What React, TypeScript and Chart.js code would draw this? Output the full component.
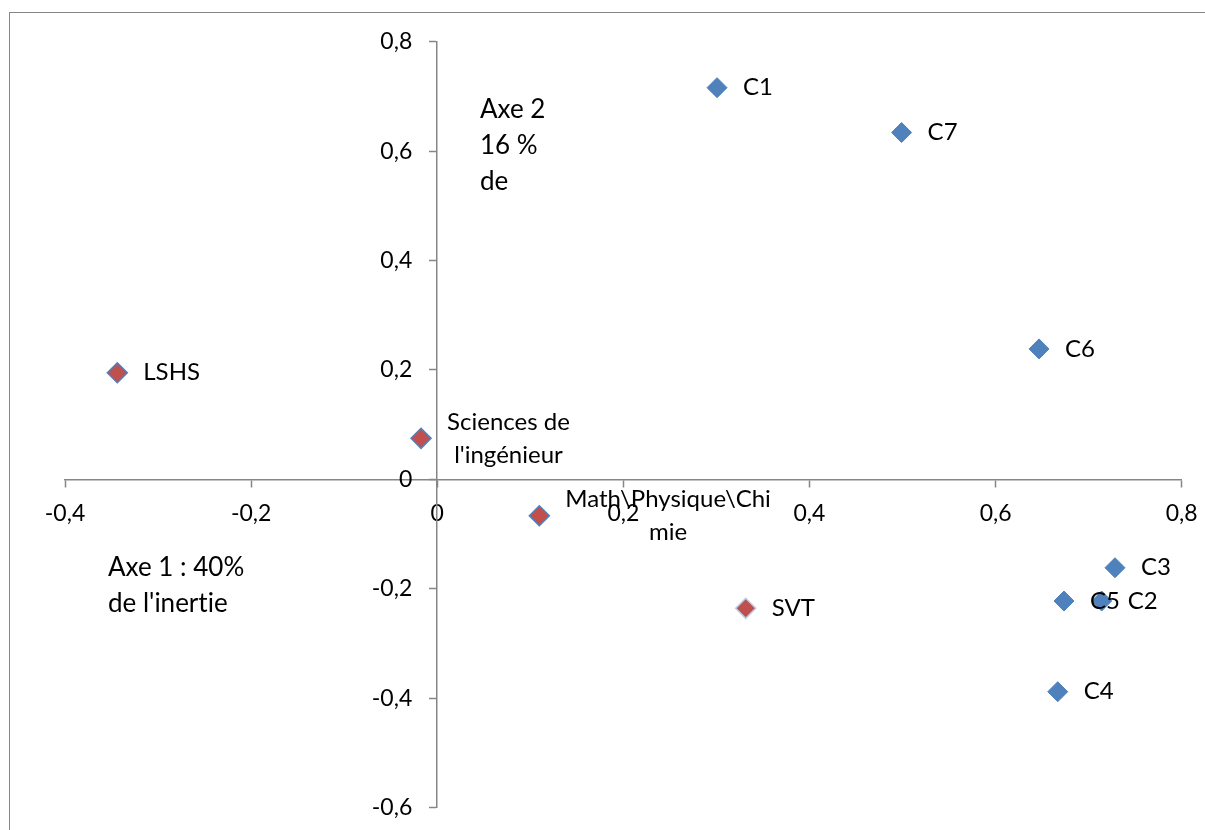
import React, { useEffect, useRef } from "react";
import { Chart, registerables } from "chart.js";

Chart.register(...registerables);

// ---- data ----
const classLabels = ["C1", "C2", "C3", "C4", "C5", "C6", "C7"];
const classX = [0.3007, 0.714, 0.7283, 0.6668, 0.6735, 0.6467, 0.499];
const classY = [0.716, -0.2223, -0.1614, -0.388, -0.2223, 0.2385, 0.634];

const fieldLabels = ["LSHS", "Sciences de\nl'ingénieur", "Math\\Physique\\Chi\nmie", "SVT"];
const fieldX = [-0.3438, -0.0174, 0.1097, 0.3315];
const fieldY = [0.195, 0.0751, -0.0663, -0.2356];

const xTicks = [-0.4, -0.2, 0, 0.2, 0.4, 0.6, 0.8];
const yTicks = [-0.6, -0.4, -0.2, 0, 0.2, 0.4, 0.6, 0.8];

const axis2Title = ["Axe 2", "16 %", "de"];
const axis1Title = ["Axe 1 : 40%", "de l'inertie"];

const FONT = "Lato, 'Open Sans', sans-serif";
const BLUE = "#4F81BD";
const RED = "#C0504D";
const AXIS = "#868686";

const fmt = (v: number) => {
  const r = Math.round(v * 10) / 10;
  return String(r).replace(".", ",");
};

const labelPlugin = {
  id: "pointLabels",
  afterDatasetsDraw(chart: any) {
    const ctx = chart.ctx;
    ctx.save();
    ctx.font = `24px ${FONT}`;
    ctx.fillStyle = "#000";
    ctx.textBaseline = "middle";
    ctx.textAlign = "center";
    chart.data.datasets.forEach((ds: any, di: number) => {
      const meta = chart.getDatasetMeta(di);
      meta.data.forEach((el: any, i: number) => {
        const lines: string[] = String(ds.pointNames[i]).split("\n");
        const maxW = Math.max(...lines.map((l) => ctx.measureText(l).width));
        const lh = 33;
        const y0 = el.y - ((lines.length - 1) * lh) / 2;
        lines.forEach((l, k) => ctx.fillText(l, el.x + 26 + maxW / 2, y0 + k * lh));
      });
    });
    ctx.restore();
  },
};

// shift tick labels of the crossing axes away from the axis lines
const shiftPlugin = {
  id: "shiftTickLabels",
  beforeDraw(chart: any) {
    const ca = chart.chartArea;
    const xi = chart.scales.x.getLabelItems(ca);
    if (!xi._shifted) {
      xi.forEach((it: any) => (it.options.translation[1] += 13));
      xi._shifted = true;
    }
    const yi = chart.scales.y.getLabelItems(ca);
    if (!yi._shifted) {
      yi.forEach((it: any) => (it.options.translation[0] -= 25));
      yi._shifted = true;
    }
  },
};

export default function App() {
  const ref = useRef<HTMLCanvasElement>(null);
  useEffect(() => {
    if (!ref.current) return;
    const chart = new Chart(ref.current, {
      type: "scatter",
      data: {
        datasets: [
          {
            label: "Classes",
            data: classX.map((x, i) => ({ x, y: classY[i] })),
            pointNames: classLabels,
            pointStyle: "rectRot",
            pointRadius: 10,
            backgroundColor: BLUE,
            borderColor: BLUE,
            borderWidth: 1,
          } as any,
          {
            label: "Filières",
            data: fieldX.map((x, i) => ({ x, y: fieldY[i] })),
            pointNames: fieldLabels,
            pointStyle: "rectRot",
            pointRadius: 10,
            backgroundColor: RED,
            borderColor: [BLUE, BLUE, BLUE, "#B9CDE5"],
            borderWidth: 1.5,
          } as any,
        ],
      },
      options: {
        responsive: false,
        animation: false,
        events: [],
        layout: { padding: { left: 65, right: 23.3, top: 41.7, bottom: 22.3 } },
        plugins: { legend: { display: false }, tooltip: { enabled: false } },
        scales: {
          x: {
            type: "linear",
            min: -0.4,
            max: 0.8,
            position: { y: 0 } as any,
            afterBuildTicks: (s: any) => {
              s.ticks = xTicks.map((value) => ({ value }));
            },
            ticks: { callback: (v: any) => fmt(Number(v)), color: "#000", font: { family: FONT, size: 23 }, padding: 0, maxRotation: 0 },
            grid: { drawOnChartArea: false, drawTicks: true, tickLength: 7, tickColor: AXIS, tickWidth: 1.5 },
            border: { color: AXIS, width: 1.5 },
          },
          y: {
            type: "linear",
            min: -0.6,
            max: 0.8,
            position: { x: 0 } as any,
            afterBuildTicks: (s: any) => {
              s.ticks = yTicks.map((value) => ({ value }));
            },
            ticks: { callback: (v: any) => fmt(Number(v)), color: "#000", font: { family: FONT, size: 23 }, padding: 0 },
            grid: { drawOnChartArea: false, drawTicks: true, tickLength: 7, tickColor: AXIS, tickWidth: 1.5 },
            border: { color: AXIS, width: 1.5 },
          },
        },
      } as any,
      plugins: [labelPlugin, shiftPlugin],
    });
    return () => chart.destroy();
  }, []);

  const textStyle: React.CSSProperties = {
    position: "absolute",
    fontFamily: FONT,
    fontSize: 26,
    lineHeight: "36px",
    color: "#000",
    whiteSpace: "pre",
    fontVariantLigatures: "none",
  };

  return (
    <div style={{ position: "fixed", left: 0, top: 0, width: 1205, height: 830, overflow: "hidden", background: "#fff" }}>
      <div
        style={{
          position: "absolute",
          left: 9,
          top: 12,
          width: 1300,
          height: 900,
          border: `1.5px solid ${AXIS}`,
          boxSizing: "border-box",
        }}
      />
      <canvas ref={ref} width={1205} height={830} style={{ position: "absolute", left: 0, top: 0 }} />
      <div style={{ ...textStyle, left: 108, top: 548 }}>{axis1Title.join("\n")}</div>
      <div style={{ ...textStyle, left: 480, top: 90 }}>{axis2Title.join("\n")}</div>
    </div>
  );
}
